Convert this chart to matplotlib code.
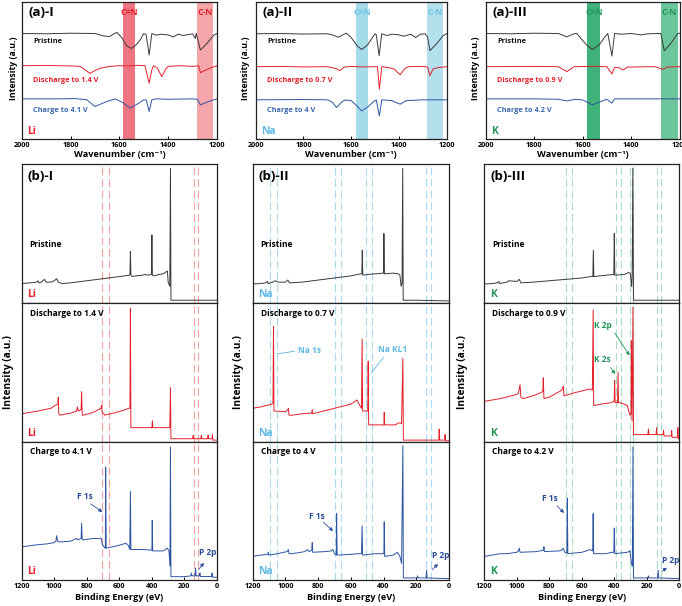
import matplotlib
matplotlib.use('Agg')
import matplotlib.pyplot as plt

plt.rcParams['font.family'] = ['Open Sans', 'DejaVu Sans']
plt.rcParams['font.weight'] = 'bold'
plt.rcParams['axes.labelweight'] = 'bold'

# ---------------- FTIR data (wavenumber cm-1, normalised intensity) ----------------
li_ir_pristine = [(2000, .770), (1900, .768), (1800, .772), (1700, .770), (1665, .752), (1640, .748), (1625, .765),
                  (1610, .778), (1590, .740), (1570, .680), (1550, .661), (1530, .690), (1515, .722), (1500, .770),
                  (1490, .760), (1478, .613), (1467, .770), (1450, .758), (1430, .765), (1400, .760), (1378, .745),
                  (1360, .765), (1340, .756), (1323, .760), (1300, .768), (1289, .734), (1285, .772), (1268, .649),
                  (1240, .700), (1214, .758), (1200, .770)]
li_ir_discharge = [(2000, .535), (1900, .537), (1800, .533), (1760, .530), (1720, .479), (1700, .500), (1679, .516),
                   (1640, .530), (1600, .535), (1560, .533), (1520, .538), (1495, .535), (1478, .407), (1467, .504),
                   (1460, .535), (1445, .520), (1426, .455), (1410, .510), (1400, .530), (1350, .535), (1300, .530),
                   (1275, .535), (1268, .484), (1245, .504), (1225, .520), (1200, .535)]
li_ir_charge = [(2000, .293), (1850, .293), (1780, .295), (1733, .286), (1700, .237), (1670, .260), (1651, .274),
                (1617, .293), (1590, .270), (1555, .225), (1520, .262), (1500, .286), (1490, .285), (1478, .201),
                (1467, .286), (1450, .293), (1400, .290), (1300, .293), (1280, .290), (1268, .249), (1240, .270),
                (1215, .285), (1200, .293)]

na_ir_pristine = [(2000, .768), (1900, .770), (1800, .766), (1700, .768), (1680, .760), (1654, .743), (1635, .760),
                  (1620, .772), (1600, .740), (1575, .680), (1556, .653), (1530, .690), (1510, .743), (1500, .768),
                  (1495, .760), (1483, .609), (1472, .768), (1450, .755), (1430, .765), (1400, .760), (1380, .750),
                  (1350, .765), (1330, .740), (1310, .765), (1290, .768), (1280, .743), (1270, .645), (1240, .700),
                  (1215, .755), (1200, .768)]
na_ir_discharge = [(2000, .528), (1900, .530), (1800, .526), (1700, .528), (1665, .515), (1647, .499), (1630, .525),
                   (1600, .530), (1550, .526), (1500, .528), (1490, .528), (1482, .364), (1472, .528), (1440, .520),
                   (1420, .510), (1395, .469), (1375, .515), (1360, .528), (1300, .530), (1280, .525), (1270, .462),
                   (1258, .510), (1240, .520), (1200, .528)]
na_ir_charge = [(2000, .286), (1800, .288), (1700, .286), (1680, .270), (1661, .230), (1640, .270), (1625, .285),
                (1600, .280), (1575, .240), (1556, .205), (1530, .235), (1510, .267), (1495, .286), (1482, .169),
                (1472, .286), (1430, .280), (1395, .254), (1370, .280), (1300, .286), (1200, .286)]

k_ir_pristine = [(2000, .770), (1900, .768), (1800, .772), (1700, .770), (1665, .746), (1640, .765), (1625, .772),
                 (1600, .720), (1580, .680), (1559, .654), (1530, .690), (1510, .740), (1496, .770), (1479, .605),
                 (1468, .770), (1440, .765), (1400, .770), (1360, .760), (1330, .768), (1290, .770), (1277, .770),
                 (1263, .644), (1235, .700), (1207, .770), (1200, .772)]
k_ir_discharge = [(2000, .528), (1800, .530), (1700, .528), (1665, .492), (1650, .510), (1635, .528), (1560, .530),
                  (1500, .528), (1479, .475), (1468, .523), (1450, .520), (1432, .504), (1415, .525), (1300, .528),
                  (1270, .508), (1250, .525), (1200, .528)]
k_ir_charge = [(2000, .293), (1800, .293), (1700, .290), (1665, .278), (1630, .290), (1600, .285), (1559, .249),
               (1530, .270), (1500, .290), (1479, .262), (1468, .293), (1200, .293)]

ir_bands_li = [(1586, 1535), (1282, 1218)]
ir_bands_na = [(1580, 1528), (1281, 1214)]
ir_bands_k = [(1580, 1527), (1277, 1207)]
ir_band_names = ['C=N', 'C-N']
ir_xticks = [2000, 1800, 1600, 1400, 1200]

# ---------------- XPS data (binding energy eV, normalised intensity) ----------------
li_xps_pristine = [(1200, .14), (1150, .145), (1110, .15), (1100, .16), (1095, .145), (1080, .15), (1060, .17),
                   (1050, .15), (1020, .15), (1000, .16), (985, .175), (975, .15), (950, .14), (900, .145),
                   (800, .16), (700, .175), (600, .19), (540, .20), (535, .205), (532, .37), (529, .20), (520, .19),
                   (500, .195), (460, .20), (440, .205), (420, .20), (403, .205), (400, .49), (397, .20), (380, .195),
                   (360, .205), (330, .21), (305, .23), (300, .15), (290, .12), (286, .97), (283, .02), (250, .02),
                   (100, .02), (0, .02)]
li_xps_discharge = [(1200, .20), (1100, .22), (1020, .24), (996, .26), (978, .27), (975, .32), (972, .20), (965, .19),
                    (900, .205), (863, .22), (858, .25), (852, .22), (835, .23), (832, .36), (828, .19), (822, .19),
                    (760, .21), (713, .24), (710, .26), (705, .21), (689, .19), (620, .21), (560, .23), (545, .24),
                    (535, .24), (532, .96), (529, .10), (500, .10), (400, .10), (397, .15), (394, .10), (300, .10),
                    (290, .10), (286, .39), (283, .02), (200, .02), (150, .02), (147, .045), (144, .02), (100, .02),
                    (96, .045), (93, .02), (57, .02), (55, .045), (52, .02), (30, .02), (28, .05), (25, .01), (0, .01)]
li_xps_charge = [(1200, .24), (1100, .255), (1050, .26), (1000, .27), (990, .28), (985, .32), (980, .28), (970, .275),
                 (900, .28), (863, .30), (855, .29), (835, .30), (832, .41), (828, .29), (822, .29), (760, .30),
                 (712, .30), (705, .26), (695, .24), (689, .23), (686, .23), (684, .815), (681, .23), (620, .245),
                 (560, .265), (545, .25), (536, .22), (532, .64), (529, .22), (450, .22), (400, .215), (398, .43),
                 (395, .21), (330, .21), (305, .23), (295, .21), (289, .10), (286, .96), (283, .024), (200, .024),
                 (160, .03), (157, .05), (154, .03), (135, .03), (132, .085), (128, .03), (108, .03), (105, .05),
                 (102, .025), (33, .025), (30, .05), (27, .02), (0, .02)]

na_xps_pristine = [(1200, .137), (1150, .14), (1120, .145), (1110, .155), (1105, .14), (1080, .15), (1060, .16),
                   (1045, .15), (1000, .15), (985, .165), (975, .145), (900, .15), (800, .165), (700, .18),
                   (600, .195), (540, .21), (533, .21), (530, .38), (527, .20), (500, .205), (450, .21), (400, .215),
                   (398, .50), (395, .21), (340, .215), (310, .21), (300, .20), (293, .12), (287, .14), (283, .97),
                   (280, .02), (200, .02), (0, .015)]
na_xps_discharge = [(1200, .24), (1150, .25), (1083, .27), (1076, .28), (1073, .83), (1070, .22), (1060, .22),
                    (1000, .215), (985, .23), (982, .24), (978, .19), (960, .19), (900, .20), (840, .205), (836, .23),
                    (833, .20), (700, .24), (600, .27), (562, .30), (550, .27), (535, .24), (531, .74), (528, .22),
                    (510, .22), (497, .22), (494, .58), (491, .12), (450, .12), (398, .12), (396, .21), (393, .12),
                    (330, .12), (305, .135), (290, .13), (282, .60), (279, .01), (200, .01), (62, .01), (60, .09),
                    (57, .01), (26, .01), (24, .05), (21, .005), (0, .005)]
na_xps_charge = [(1200, .17), (1150, .18), (1108, .185), (1105, .20), (1100, .18), (1050, .19), (990, .205),
                 (982, .22), (978, .19), (960, .19), (880, .205), (866, .22), (855, .205), (839, .215), (836, .27),
                 (833, .20), (760, .205), (718, .21), (710, .22), (700, .19), (689, .18), (687, .48), (684, .18),
                 (600, .185), (560, .19), (535, .19), (531, .39), (528, .18), (450, .19), (398, .19), (396, .42),
                 (393, .17), (340, .18), (315, .20), (300, .17), (290, .12), (282, .97), (279, .015), (195, .015),
                 (192, .03), (189, .015), (140, .015), (137, .07), (134, .015), (0, .01)]

k_xps_pristine = [(1200, .137), (1150, .14), (1120, .145), (1110, .155), (1105, .14), (1060, .15), (1050, .16),
                  (1000, .155), (985, .17), (975, .145), (900, .15), (800, .16), (700, .17), (600, .18), (545, .19),
                  (532, .19), (529, .38), (526, .19), (450, .20), (403, .205), (400, .50), (397, .20), (340, .205),
                  (310, .22), (300, .21), (296, .14), (293, .12), (290, .20), (286, .97), (282, .02), (0, .02)]
k_xps_discharge = [(1200, .29), (1100, .31), (1000, .34), (990, .35), (980, .41), (975, .32), (960, .31), (900, .33),
                   (857, .35), (840, .36), (837, .46), (833, .31), (800, .32), (724, .37), (714, .40), (710, .33),
                   (650, .35), (550, .38), (535, .37), (530, .95), (527, .26), (480, .27), (420, .28), (401, .29),
                   (398, .44), (395, .28), (380, .28), (377, .50), (374, .28), (360, .28), (320, .26), (304, .19),
                   (297, .20), (295, .73), (291, .15), (285, .97), (282, .05), (250, .05), (193, .05), (190, .09),
                   (187, .05), (143, .05), (140, .10), (137, .05), (100, .05), (97, .08), (94, .04), (50, .04),
                   (47, .08), (44, .03), (12, .03), (9, .10), (6, .02), (0, .02)]
k_xps_charge = [(1200, .17), (1150, .18), (1104, .19), (1060, .19), (1000, .20), (990, .21), (985, .23), (980, .20),
                (880, .205), (857, .21), (836, .215), (833, .24), (830, .205), (740, .21), (724, .215), (714, .23),
                (705, .20), (692, .195), (689, .59), (686, .19), (600, .20), (560, .215), (550, .22), (533, .21),
                (530, .48), (527, .19), (450, .19), (415, .20), (403, .20), (400, .375), (397, .19), (360, .195),
                (320, .20), (304, .21), (297, .14), (293, .12), (289, .10), (285, .96), (282, .015), (193, .015),
                (190, .03), (187, .015), (133, .015), (130, .07), (127, .015), (0, .01)]

xps_dash_li = [705, 665, 140, 115]
xps_dash_na = [1097, 1052, 696, 661, 509, 470, 140, 109]
xps_dash_k = [700, 662, 390, 360, 305, 287, 137, 115]
xps_xticks = [1200, 1000, 800, 600, 400, 200, 0]

roman = ['I', 'II', 'III']
elements = ['Li', 'Na', 'K']
discharge_v = ['1.4', '0.7', '0.9']
charge_v = ['4.1', '4', '4.2']

# ---------------- styles ----------------
C_PRIS = '#3a3a3a'
C_RED = '#e3202b'
C_BLUE = '#2d55a3'
el_color = {'Li': '#e3202b', 'Na': '#5cb8e4', 'K': '#23955a'}
band_colors = {'Li': ['#f07582', '#f5a6ab'], 'Na': ['#a6dbe9', '#b3e0ec'], 'K': ['#3fb27a', '#6cc59b']}
dash_color = {'Li': '#f2a2a2', 'Na': '#a9d9ec', 'K': '#a9dcc2'}

W, H = 682, 606
fig = plt.figure(figsize=(W / 100, H / 100), dpi=100)


def fr(px_l, px_t, px_r, px_b):
    return [px_l / W, 1 - px_b / H, (px_r - px_l) / W, (px_b - px_t) / H]


top_pos = [fr(21.7, 2, 217, 139), fr(255.7, 2, 446.7, 139), fr(485.7, 2, 679.5, 139)]
col_lr = [(21.7, 217), (252.7, 449), (484.3, 679.3)]
rows_tb = [(164, 303), (303, 441.5), (441.5, 580)]
top_ylab_x = [13, 245, 475]
bot_ylab_x = [8.5, 238, 463]

ir_data = [(li_ir_pristine, li_ir_discharge, li_ir_charge),
           (na_ir_pristine, na_ir_discharge, na_ir_charge),
           (k_ir_pristine, k_ir_discharge, k_ir_charge)]
ir_bands = [ir_bands_li, ir_bands_na, ir_bands_k]
xps_data = [(li_xps_pristine, li_xps_discharge, li_xps_charge),
            (na_xps_pristine, na_xps_discharge, na_xps_charge),
            (k_xps_pristine, k_xps_discharge, k_xps_charge)]
xps_dash = [xps_dash_li, xps_dash_na, xps_dash_k]


def style_axes(ax):
    for s in ax.spines.values():
        s.set_linewidth(0.9)
        s.set_color('#222222')
    ax.tick_params(axis='x', direction='in', length=2.5, width=0.7, labelsize=5.2, pad=2)
    ax.set_yticks([])


for i in range(3):
    el = elements[i]
    # ----- top FTIR panel -----
    ax = fig.add_axes(top_pos[i])
    style_axes(ax)
    for (a, b), bc, name in zip(ir_bands[i], band_colors[el], ir_band_names):
        ax.axvspan(a, b, color=bc, lw=0, zorder=0)
        ax.text((a + b) / 2, 0.92, name, color=el_color[el] if el != 'Na' else '#6cc2e4',
                fontsize=6.3, ha='center', va='center', fontweight='bold', zorder=3)
    for series, col in zip(ir_data[i], [C_PRIS, C_RED, C_BLUE]):
        xs = [p[0] for p in series]
        ys = [p[1] for p in series]
        ax.plot(xs, ys, color=col, lw=0.7, zorder=2)
    ax.set_xlim(2000, 1200)
    ax.set_ylim(0, 1)
    ax.set_xticks(ir_xticks)
    ax.set_xticklabels([str(t) for t in ir_xticks])
    ax.set_xlabel('Wavenumber (cm⁻¹)', fontsize=6.6, labelpad=1)
    ax.text(0.035, 0.92, f'(a)-{roman[i]}', transform=ax.transAxes, fontsize=9.5, va='center', ha='left')
    ax.text(0.06, 0.71, 'Pristine', transform=ax.transAxes, fontsize=5.3, color='#111111', va='center')
    ax.text(0.06, 0.43, f'Discharge to {discharge_v[i]} V', transform=ax.transAxes, fontsize=5.3,
            color=C_RED, va='center')
    ax.text(0.06, 0.21, f'Charge to {charge_v[i]} V', transform=ax.transAxes, fontsize=5.3,
            color='#3a66b0', va='center')
    ax.text(0.03, 0.055, el, transform=ax.transAxes, fontsize=7.5, color=el_color[el], va='center')
    fig.text(top_ylab_x[i] / W, 1 - 68 / H, 'Intensity (a.u.)', rotation=90, fontsize=6.3,
             ha='center', va='center')

    # ----- bottom XPS panels -----
    l, r = col_lr[i]
    labels = ['Pristine', f'Discharge to {discharge_v[i]} V', f'Charge to {charge_v[i]} V']
    for j in range(3):
        t, b = rows_tb[j]
        axb = fig.add_axes(fr(l, t, r, b))
        style_axes(axb)
        for xv in xps_dash[i]:
            axb.axvline(xv, color=dash_color[el], lw=0.8, ls=(0, (7, 3.5)), zorder=0)
        series = xps_data[i][j]
        xs = [p[0] for p in series]
        ys = [p[1] for p in series]
        axb.plot(xs, ys, color=[C_PRIS, C_RED, C_BLUE][j], lw=0.7, zorder=2)
        axb.set_xlim(1200, 0)
        axb.set_ylim(0, 1)
        if j < 2:
            axb.set_xticks([])
        else:
            axb.set_xticks(xps_xticks)
            axb.set_xticklabels([str(t) for t in xps_xticks])
            axb.set_xlabel('Binding Energy (eV)', fontsize=6.6, labelpad=2)
        if j == 0:
            axb.text(0.03, 0.91, f'(b)-{roman[i]}', transform=axb.transAxes, fontsize=9.5, va='center')
            axb.text(0.04, 0.42, labels[j], transform=axb.transAxes, fontsize=6, va='center')
        else:
            axb.text(0.04, 0.925, labels[j], transform=axb.transAxes, fontsize=6, va='center')
        axb.text(0.03, 0.06, el, transform=axb.transAxes, fontsize=7.5, color=el_color[el], va='center')

        arrow = dict(arrowstyle='-|>', lw=0.6, mutation_scale=5)
        if j == 2:
            fx = {'Li': (810, 0.60, 790, 0.56, 690, 0.48), 'Na': (809, 0.46, 780, 0.43, 696, 0.34),
                  'K': (796, 0.59, 765, 0.55, 697, 0.47)}[el]
            axb.text(fx[0], fx[1], 'F 1s', color='#2b4c9a', fontsize=6, ha='center', va='center')
            axb.annotate('', xy=(fx[4], fx[5]), xytext=(fx[2], fx[3]),
                         arrowprops=dict(arrow, color='#2b4c9a'))
            px = {'Li': (55, 0.20, 123, 0.06, 70, 0.14), 'Na': (50, 0.18, 115, 0.06, 55, 0.13),
                  'K': (52, 0.14, 123, 0.05, 62, 0.10)}[el]
            axb.text(px[0], px[1], 'P 2p', color='#2b4c9a', fontsize=6, ha='center', va='center')
            axb.annotate('', xy=(px[4], px[5]), xytext=(px[2], px[3]),
                         arrowprops=dict(arrow, color='#2b4c9a'))
        if j == 1 and el == 'Na':
            axb.text(850, 0.66, 'Na 1s', color='#5cb8e4', fontsize=6, ha='center', va='center')
            axb.annotate('', xy=(926, 0.655), xytext=(1066, 0.63),
                         arrowprops=dict(arrowstyle='-', lw=0.6, color='#5cb8e4'))
            axb.text(346, 0.665, 'Na KL1', color='#5cb8e4', fontsize=6, ha='center', va='center')
            axb.annotate('', xy=(387, 0.625), xytext=(486, 0.48),
                         arrowprops=dict(arrowstyle='-', lw=0.6, color='#5cb8e4'))
        if j == 1 and el == 'K':
            axb.text(468, 0.84, 'K 2p', color='#23955a', fontsize=6, ha='center', va='center')
            axb.annotate('', xy=(297, 0.605), xytext=(406, 0.80),
                         arrowprops=dict(arrow, color='#23955a'))
            axb.text(471, 0.59, 'K 2s', color='#23955a', fontsize=6, ha='center', va='center')
            axb.annotate('', xy=(385, 0.47), xytext=(433, 0.55),
                         arrowprops=dict(arrow, color='#23955a'))
    fig.text(bot_ylab_x[i] / W, 1 - 372 / H, 'Intensity (a.u.)', rotation=90, fontsize=7.3,
             ha='center', va='center')

fig.savefig('out.png', dpi=100)
